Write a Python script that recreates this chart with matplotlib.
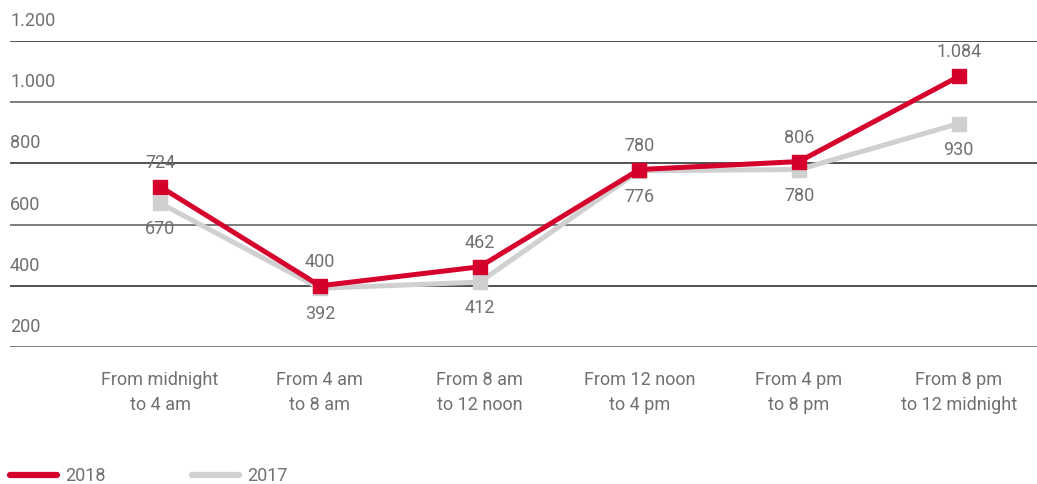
import matplotlib
matplotlib.use("Agg")
import matplotlib.pyplot as plt
from matplotlib.lines import Line2D

categories = ["From midnight\nto 4 am", "From 4 am\nto 8 am", "From 8 am\nto 12 noon",
              "From 12 noon\nto 4 pm", "From 4 pm\nto 8 pm", "From 8 pm\nto 12 midnight"]
values_2018 = [724, 400, 462, 780, 806, 1084]
values_2017 = [670, 392, 412, 776, 780, 930]
yticks = [200, 400, 600, 800, 1000, 1200]

RED = "#d5002c"
GREY = "#d0d0d0"
TXT = "#707070"
FONT = "Roboto"
FS = 13
plt.rcParams['font.family'] = [FONT, 'DejaVu Sans']

def fmt(v):
    return f"{v:,}".replace(",", ".")

W, H = 1037, 485
fig = plt.figure(figsize=(W/100, H/100), dpi=100)
ax = fig.add_axes([10/W, (H-348)/H, 1-10/W, (348-42)/H])
ax.set_xlim(-0.94, 5.49)
ax.set_ylim(200, 1200)
for s in ax.spines.values():
    s.set_visible(False)
ax.set_xticks([]); ax.set_yticks([])

for i, t in enumerate(yticks):
    ax.axhline(t, color="#333333" if i % 2 == 1 else "#666666", lw=1.2, zorder=1)
    ax.annotate(fmt(t), (0, t), xycoords=("axes fraction", "data"), xytext=(0, 21),
                textcoords="offset pixels", ha="left", va="center", fontsize=FS, color=TXT)

x = list(range(len(categories)))
ax.plot(x, values_2017, color=GREY, lw=3.6, marker="s", ms=10, zorder=3, clip_on=False,
        solid_joinstyle="miter")
ax.plot(x, values_2018, color=RED, lw=3.6, marker="s", ms=10, zorder=4, clip_on=False,
        solid_joinstyle="miter")

for xi, v in zip(x, values_2018):
    ax.annotate(fmt(v), (xi, v), xytext=(0, 25), textcoords="offset pixels",
                ha="center", va="center", fontsize=FS, color=TXT, zorder=5)
for xi, v in zip(x, values_2017):
    ax.annotate(fmt(v), (xi, v), xytext=(0, -25), textcoords="offset pixels",
                ha="center", va="center", fontsize=FS, color=TXT, zorder=5)

for xi, c in zip(x, categories):
    ax.annotate(c, (xi, 200), xytext=(0, -23), textcoords="offset pixels",
                ha="center", va="top", fontsize=FS, color=TXT, linespacing=1.5)

# legend
for (x0, label, col) in [(10, "2018", RED), (192, "2017", GREY)]:
    fig.add_artist(Line2D([x0/W, (x0+47)/W], [(H-476)/H]*2, color=col, lw=4.5,
                          solid_capstyle="round"))
    fig.text((x0+55)/W, (H-476)/H, label, ha="left", va="center", fontsize=FS, color=TXT)

fig.savefig("out.png", dpi=100)
